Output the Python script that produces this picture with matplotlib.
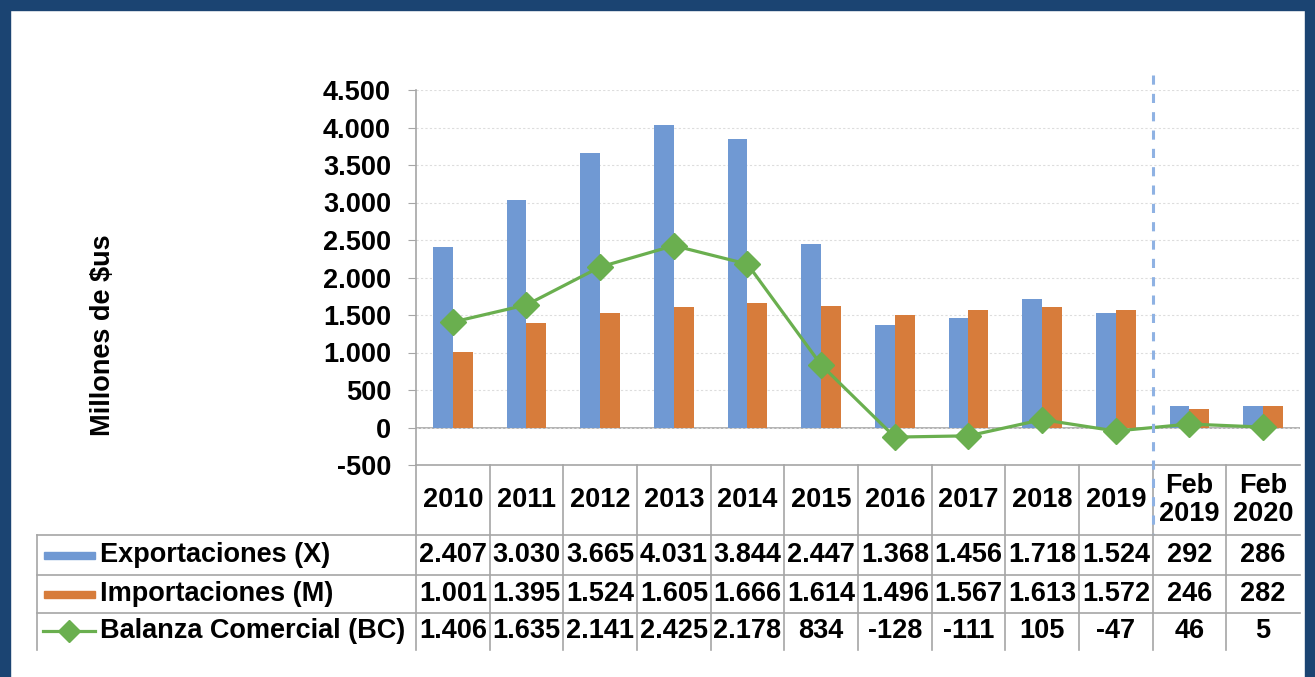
import matplotlib
matplotlib.use("Agg")
import matplotlib.pyplot as plt
import matplotlib.transforms as mtransforms
from matplotlib.lines import Line2D
from matplotlib.patches import Rectangle
import numpy as np

plt.rcParams['font.family'] = ['Liberation Sans', 'DejaVu Sans']
plt.rcParams['font.weight'] = 'bold'

categories = ["2010", "2011", "2012", "2013", "2014", "2015", "2016",
              "2017", "2018", "2019", "Feb\n2019", "Feb\n2020"]
exportaciones = [2407, 3030, 3665, 4031, 3844, 2447, 1368, 1456, 1718, 1524, 292, 286]
importaciones = [1001, 1395, 1524, 1605, 1666, 1614, 1496, 1567, 1613, 1572, 246, 282]
balanza = [1406, 1635, 2141, 2425, 2178, 834, -128, -111, 105, -47, 46, 5]
series_names = ["Exportaciones (X)", "Importaciones (M)", "Balanza Comercial (BC)"]
y_ticks = [-500, 0, 500, 1000, 1500, 2000, 2500, 3000, 3500, 4000, 4500]

BLUE = "#7099D3"
ORANGE = "#D77C3B"
GREEN = "#6AAF4F"
GRID = "#A6A6A6"
FS = 19.5

W, H = 1315, 677


def fmt(v):
    return f"{v:,}".replace(",", ".")


def fy(px):
    return 1 - px / H


def fx(px):
    return px / W


fig = plt.figure(figsize=(W / 100, H / 100), dpi=100)
fig.patch.set_facecolor("white")
ax = fig.add_axes([fx(416), fy(465), fx(1300) - fx(416), fy(90) - fy(465)])

x = np.arange(len(categories))
bw = 0.27
ax.bar(x - bw / 2, exportaciones, bw, color=BLUE, zorder=2)
ax.bar(x + bw / 2, importaciones, bw, color=ORANGE, zorder=2)
ax.axhline(0, color=GRID, lw=1.2, zorder=1)
ax.plot(x, balanza, color=GREEN, lw=2.3, marker="D", markersize=13, zorder=3)

ax.set_xlim(-0.5, len(categories) - 0.5)
ax.set_ylim(-500, 4500)
ax.set_yticks(y_ticks)
ax.set_yticklabels([fmt(v) for v in y_ticks], fontsize=FS, fontweight="bold")
ax.tick_params(axis="y", length=6, color=GRID, pad=12)
ax.set_xticks([])
ax.grid(axis="y", color="#DDDDDD", linestyle=(0, (2, 2)), lw=0.8, zorder=0)
for s in ["top", "right"]:
    ax.spines[s].set_visible(False)
ax.spines["left"].set_color(GRID)
ax.spines["bottom"].set_color(GRID)
ax.spines["left"].set_linewidth(1.2)
ax.spines["bottom"].set_linewidth(1.2)

fig.text(fx(103), fy(335), "Millones de $us", rotation=90, fontsize=FS,
         fontweight="bold", ha="center", va="center")

# table below the axes
tr = mtransforms.blended_transform_factory(ax.transData, fig.transFigure)
row_edges = [465, 535, 575, 613, 650]
for i in range(len(categories)):
    ax.add_line(Line2D([i - 0.5, i - 0.5], [fy(465), fy(650)], transform=tr,
                       color=GRID, lw=1.2, clip_on=False))
for py in row_edges[1:4]:
    fig.add_artist(Line2D([fx(37), fx(1300)], [fy(py), fy(py)], color=GRID, lw=1.2))
fig.add_artist(Line2D([fx(37), fx(37)], [fy(535), fy(650)], color=GRID, lw=1.2))

for i, c in enumerate(categories):
    ax.text(i, fy(500), c, transform=tr, ha="center", va="center",
            fontsize=FS, fontweight="bold", linespacing=1.1)

rows = [exportaciones, importaciones, balanza]
for r, vals in enumerate(rows):
    yc = fy((row_edges[r + 1] + row_edges[r + 2]) / 2)
    for i, v in enumerate(vals):
        ax.text(i, yc, fmt(v), transform=tr, ha="center", va="center",
                fontsize=FS, fontweight="bold")
    fig.text(fx(100), yc, series_names[r], ha="left", va="center",
             fontsize=FS, fontweight="bold")

# legend keys
yc0 = fy(555)
fig.add_artist(Rectangle((fx(44), yc0 - 3.5 / H), fx(51), 7 / H, color=BLUE))
yc1 = fy(594)
fig.add_artist(Rectangle((fx(44), yc1 - 3.5 / H), fx(51), 7 / H, color=ORANGE))
yc2 = fy(631)
fig.add_artist(Line2D([fx(43), fx(95)], [yc2, yc2], color=GREEN, lw=2.3))
fig.add_artist(Line2D([fx(69)], [yc2], color=GREEN, marker="D", markersize=11))

# dashed separator
ax.add_line(Line2D([9.5, 9.5], [fy(75), fy(535)], transform=tr, color="#8FB2E3",
                   lw=2.2, linestyle=(0, (3, 3)), clip_on=False, zorder=4))

# dark frame
frame = "#1B4472"
fig.add_artist(Rectangle((0, fy(10)), 1, 10 / H, color=frame))
fig.add_artist(Rectangle((0, 0), fx(10), 1, color=frame))
fig.add_artist(Rectangle((fx(1305), 0), fx(10), 1, color=frame))

fig.savefig("out.png", dpi=100)
